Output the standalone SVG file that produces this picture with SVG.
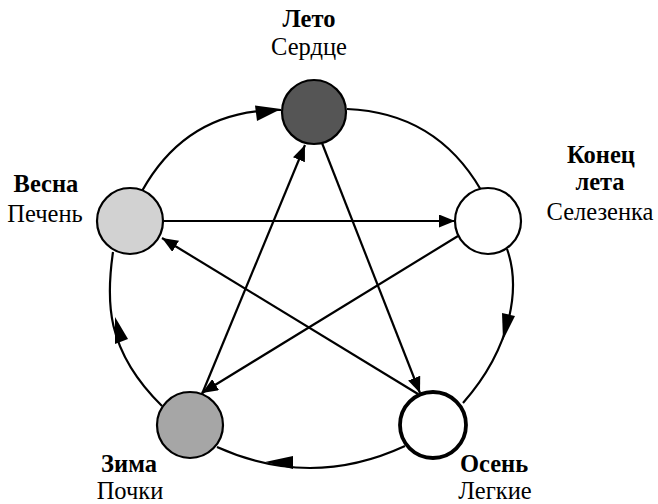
<svg xmlns="http://www.w3.org/2000/svg" width="658" height="504" viewBox="0 0 658 504">
<style>
.conn{fill:none;stroke:#000;stroke-width:2.2}
.node{stroke:#000;stroke-width:2.2}
.ah{fill:#000;stroke:none}
text{font-family:"Liberation Serif","Times New Roman",serif;font-size:24.5px;fill:#000;text-anchor:middle}
.b{font-weight:bold}
</style>
<defs>
<marker id="arr" markerUnits="userSpaceOnUse" markerWidth="16" markerHeight="13" refX="16" refY="6.5" orient="auto">
<path d="M0,0 L16,6.5 L0,13 z" fill="#000"/>
</marker>
</defs>
<g id="connectors">
<path class="conn" d="M142,191 Q187.5,109 281,110"/>
<polygon class="ah" points="281,109 255,105.5 257,121"/>
<path class="conn" d="M347,109 Q436,112.5 481,190"/>
<path class="conn" d="M507,249 C520,285 514,345 463,403"/>
<polygon class="ah" points="502,313 515,316 503,340"/>
<path class="conn" d="M405,446 Q311,489.5 217,447"/>
<polygon class="ah" points="265,462 293,456 293,469"/>
<path class="conn" d="M162,406 C105,350 106,300 113,252"/>
<polygon class="ah" points="115,317 115,344 128,339"/>
<line class="conn" x1="164" y1="221" x2="455" y2="221" marker-end="url(#arr)"/>
<line class="conn" x1="458" y1="236" x2="202" y2="393" marker-end="url(#arr)"/>
<line class="conn" x1="202" y1="394" x2="305" y2="145" marker-end="url(#arr)"/>
<line class="conn" x1="322" y1="143" x2="420" y2="393" marker-end="url(#arr)"/>
<line class="conn" x1="418" y1="394" x2="162" y2="238" marker-end="url(#arr)"/>
</g>
<g id="leto">
<circle class="node" cx="314" cy="112" r="32" fill="#555"/>
<text class="b" x="309" y="27">Лето</text>
<text x="309" y="55">Сердце</text>
</g>
<g id="vesna">
<circle class="node" cx="130" cy="221" r="33" fill="#d2d2d2"/>
<text class="b" x="46" y="192">Весна</text>
<text x="45" y="222">Печень</text>
</g>
<g id="konec-leta">
<circle class="node" cx="488" cy="221" r="33" fill="#fff"/>
<text class="b" x="601" y="163">Конец</text>
<text class="b" x="600" y="190">лета</text>
<text x="600" y="220">Селезенка</text>
</g>
<g id="osen">
<circle cx="433" cy="425" r="33" fill="#fff" stroke="#000" stroke-width="3.8"/>
<text class="b" x="494" y="472">Осень</text>
<text x="495" y="499">Легкие</text>
</g>
<g id="zima">
<circle class="node" cx="190" cy="425" r="33" fill="#a6a6a6"/>
<text class="b" x="129" y="472">Зима</text>
<text x="130" y="499">Почки</text>
</g>
</svg>
